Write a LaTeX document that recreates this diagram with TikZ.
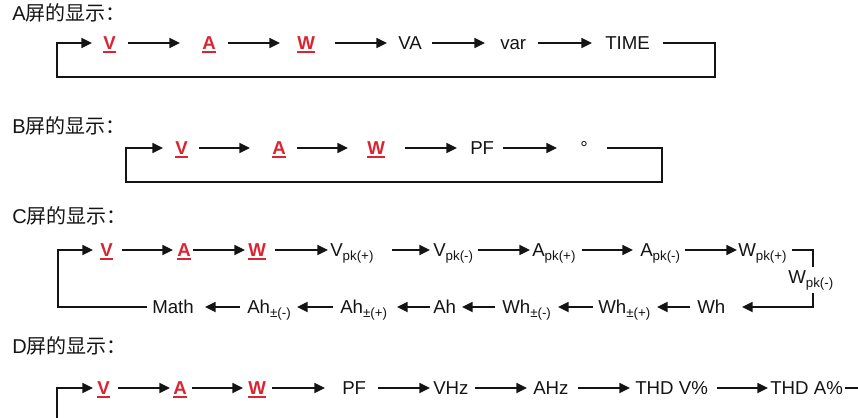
\documentclass[tikz,border=0pt]{standalone}
\usepackage{fontspec}
\setmainfont{Liberation Sans}
\newfontfamily\cjk{Noto Sans CJK SC}
\usetikzlibrary{arrows.meta}
\definecolor{myred}{RGB}{218,36,48}
\definecolor{ink}{RGB}{20,20,20}
\newcommand\redu[1]{{\color{myred}\bfseries\setbox0=\hbox{#1}\rlap{\rule[-2.3pt]{\wd0}{1.3pt}}\box0}}
\newcommand\subx[1]{\raisebox{-2.8pt}{\fontsize{10}{12}\selectfont #1}}
\begin{document}
\begin{tikzpicture}[x=0.75pt,y=-0.75pt,
  lbl/.style={anchor=west,inner sep=0pt,text height=10pt,text depth=0pt,text=ink,font=\fontsize{14}{16}\selectfont},
  ttl/.style={anchor=west,inner sep=0pt,text=ink,font=\fontsize{15}{18}\selectfont},
  arr/.style={draw=ink,line width=1.3pt,-{Triangle[length=8pt,width=7.5pt]}},
  ln/.style={draw=ink,line width=1.3pt}]
\useasboundingbox (0,0) rectangle (858,418);
\clip (0,0) rectangle (858,418);

% ---------- A ----------
\node[ttl] (tA) at (12,13) {A{\cjk 屏的显示：}};
\node[lbl] (AV) at (103,43) {\redu{V}};
\node[lbl] (AA) at (202,43) {\redu{A}};
\node[lbl] (AW) at (297,43) {\redu{W}};
\node[lbl] (AVA) at (398,43) {VA};
\node[lbl] (Avar) at (500,43) {var};
\node[lbl] (ATIME) at (605,43) {TIME};
\draw[arr] ([shift={(25,0)}]AV.west) -- ([shift={(-22,0)}]AA.west);
\draw[arr] ([shift={(26,0)}]AA.west) -- ([shift={(-17,0)}]AW.west);
\draw[arr] ([shift={(38,0)}]AW.west) -- ([shift={(-11,0)}]AVA.west);
\draw[arr] ([shift={(34,0)}]AVA.west) -- ([shift={(-15,0)}]Avar.west);
\draw[arr] ([shift={(38,0)}]Avar.west) -- ([shift={(-13,0)}]ATIME.west);
\draw[arr] ([shift={(58,0)}]ATIME.west) -- ++(52,0) -- ++(0,34) -| ([shift={(-46,0)}]AV.west) -- ([shift={(-11,0)}]AV.west);

% ---------- B ----------
\node[ttl] (tB) at (12,126) {B{\cjk 屏的显示：}};
\node[lbl] (BV) at (175,148) {\redu{V}};
\node[lbl] (BA) at (272,148) {\redu{A}};
\node[lbl] (BW) at (367,148) {\redu{W}};
\node[lbl] (BPF) at (470,148) {PF};
\node[lbl] (Bdeg) at (580,148) {°};
\draw[arr] ([shift={(24,0)}]BV.west) -- ([shift={(-22,0)}]BA.west);
\draw[arr] ([shift={(25,0)}]BA.west) -- ([shift={(-19,0)}]BW.west);
\draw[arr] ([shift={(38,0)}]BW.west) -- ([shift={(-13,0)}]BPF.west);
\draw[arr] ([shift={(33,0)}]BPF.west) -- ([shift={(-23,0)}]Bdeg.west);
\draw[arr] ([shift={(27,0)}]Bdeg.west) -- ++(55,0) -- ++(0,34) -| ([shift={(-49,0)}]BV.west) -- ([shift={(-12,0)}]BV.west);

% ---------- C ----------
\node[ttl] (tC) at (12,216) {C{\cjk 屏的显示：}};
\node[lbl] (CV) at (100,250) {\redu{V}};
\node[lbl] (CA) at (177,250) {\redu{A}};
\node[lbl] (CW) at (248,250) {\redu{W}};
\node[lbl] (CVp) at (330,250) {V\subx{pk(+)}};
\node[lbl] (CVm) at (433,250) {V\subx{pk(-)}};
\node[lbl] (CAp) at (532,250) {A\subx{pk(+)}};
\node[lbl] (CAm) at (640,250) {A\subx{pk(-)}};
\node[lbl] (CWp) at (738,250) {W\subx{pk(+)}};
\node[lbl] (CWm) at (788,277) {W\subx{pk(-)}};
\node[lbl] (CWh) at (697,307) {Wh};
\node[lbl] (CWhp) at (598,307) {Wh\subx{±(+)}};
\node[lbl] (CWhm) at (502,307) {Wh\subx{±(-)}};
\node[lbl] (CAh) at (433,307) {Ah};
\node[lbl] (CAhp) at (340,307) {Ah\subx{±(+)}};
\node[lbl] (CAhm) at (247,307) {Ah\subx{±(-)}};
\node[lbl] (CMath) at (152,307) {Math};
\draw[arr] ([shift={(22,0)}]CV.west) -- ([shift={(-4,0)}]CA.west);
\draw[arr] ([shift={(16,0)}]CA.west) -- ([shift={(-3,0)}]CW.west);
\draw[arr] ([shift={(27,0)}]CW.west) -- ([shift={(-2,0)}]CVp.west);
\draw[arr] ([shift={(62,0)}]CVp.west) -- ([shift={(-3,0)}]CVm.west);
\draw[arr] ([shift={(45,0)}]CVm.west) -- ([shift={(-2,0)}]CAp.west);
\draw[arr] ([shift={(50,0)}]CAp.west) -- ([shift={(-7,0)}]CAm.west);
\draw[arr] ([shift={(45,0)}]CAm.west) -- ([shift={(-1,0)}]CWp.west);
\draw[ln] ([shift={(54,0)}]CWp.west) -- ++(21,0) -- ++(0,17);
\draw[arr] ([shift={(25,16)}]CWm.west) -- ++(0,14) -- ([shift={(45,0)}]CWh.west);
\draw[arr] ([shift={(-7,0)}]CWh.west) -- ([shift={(59,0)}]CWhp.west);
\draw[arr] ([shift={(-5,0)}]CWhp.west) -- ([shift={(56,0)}]CWhm.west);
\draw[arr] ([shift={(-7,0)}]CWhm.west) -- ([shift={(29,0)}]CAh.west);
\draw[arr] ([shift={(-3,0)}]CAh.west) -- ([shift={(57,0)}]CAhp.west);
\draw[arr] ([shift={(-7,0)}]CAhp.west) -- ([shift={(50,0)}]CAhm.west);
\draw[arr] ([shift={(-7,0)}]CAhm.west) -- ([shift={(53,0)}]CMath.west);
\draw[arr] ([shift={(-5,0)}]CMath.west) -- ++(-89,0) |- ([shift={(-7,0)}]CV.west);

% ---------- D ----------
\node[ttl] (tD) at (12,346) {D{\cjk 屏的显示：}};
\node[lbl] (DV) at (97,388) {\redu{V}};
\node[lbl] (DA) at (173,388) {\redu{A}};
\node[lbl] (DW) at (248,388) {\redu{W}};
\node[lbl] (DPF) at (342,388) {PF};
\node[lbl] (DVHz) at (433,388) {VHz};
\node[lbl] (DAHz) at (533,388) {AHz};
\node[lbl] (DTV) at (635,388) {THD V\%};
\node[lbl] (DTA) at (770,388) {THD A\%};
\coordinate (Dstart) at (57,430);
\draw[arr] (Dstart) |- ([shift={(-4,0)}]DV.west);
\draw[arr] ([shift={(21,0)}]DV.west) -- ([shift={(-3,0)}]DA.west);
\draw[arr] ([shift={(19,0)}]DA.west) -- ([shift={(-5,0)}]DW.west);
\draw[arr] ([shift={(24,0)}]DW.west) -- ([shift={(-17,0)}]DPF.west);
\draw[arr] ([shift={(36,0)}]DPF.west) -- ([shift={(-3,0)}]DVHz.west);
\draw[arr] ([shift={(42,0)}]DVHz.west) -- ([shift={(-6,0)}]DAHz.west);
\draw[arr] ([shift={(45,0)}]DAHz.west) -- ([shift={(-5,0)}]DTV.west);
\draw[arr] ([shift={(82,0)}]DTV.west) -- ([shift={(-2,0)}]DTA.west);
\draw[ln] ([shift={(75,0)}]DTA.west) -- ++(40,0);
\end{tikzpicture}
\end{document}
